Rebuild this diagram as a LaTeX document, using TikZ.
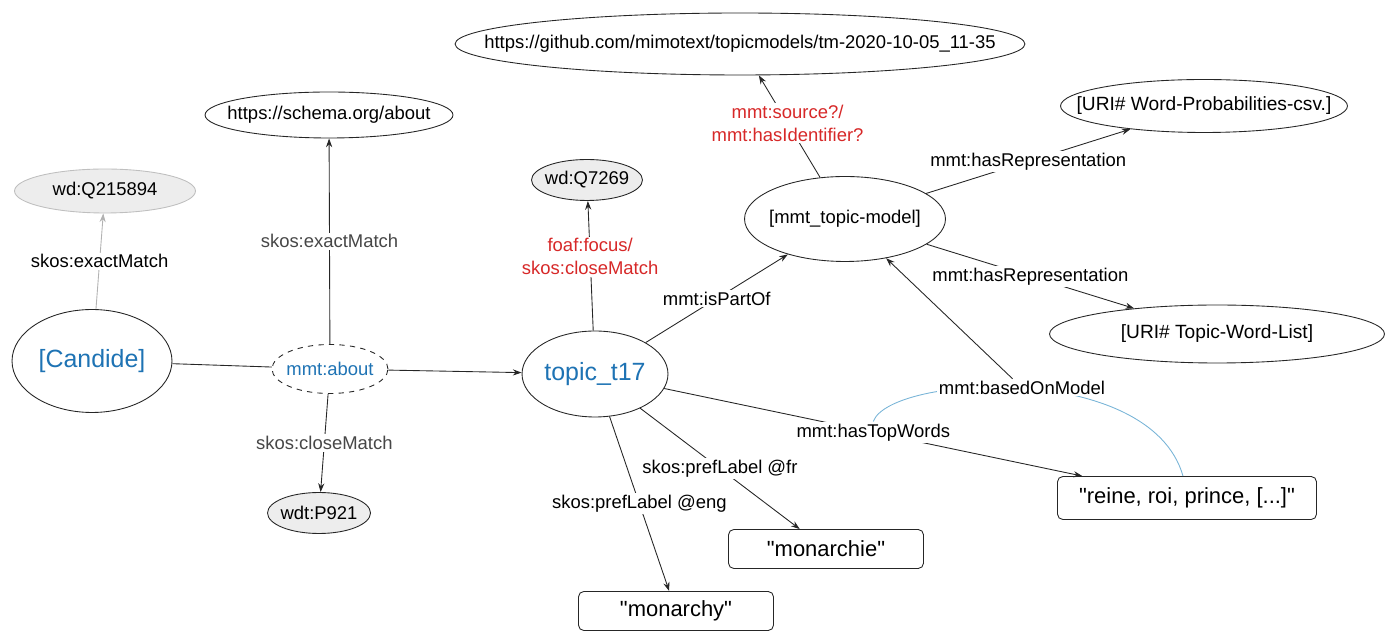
\documentclass[tikz,border=0pt]{standalone}
\usepackage{fontspec}
\setmainfont{Liberation Sans}[Ligatures=TeXOff]
\usepackage{xcolor}
\usepackage{tikz}
\usetikzlibrary{arrows.meta, shapes.geometric}

\definecolor{uriblue}{RGB}{30,115,180}
\definecolor{qred}{RGB}{215,40,40}
\definecolor{linkblue}{RGB}{120,180,215}
\newcommand{\zw}[1]{\makebox[0pt]{#1}}

\begin{document}
\begin{tikzpicture}[
        x=0.02cm, y=-0.02cm,
        ell_style/.style={ellipse, draw=black!85, line width=0.5pt, fill=white, inner sep=0pt, font=\fontsize{10.5}{12.5}\selectfont},
        wd_style/.style={ell_style, fill=black!7},
        uri_style/.style={ell_style, font=\fontsize{10.9}{13}\selectfont},
        big_style/.style={ell_style, text=uriblue, font=\fontsize{14.2}{17}\selectfont},
        lit_style/.style={rectangle, rounded corners=3pt, draw=black!85, line width=0.5pt, inner sep=0pt, font=\fontsize{12.5}{15}\selectfont},
        edge_style/.style={draw=black!85, line width=0.5pt, -{Stealth[length=5pt, width=3.5pt]}},
        line_style/.style={draw=black!85, line width=0.5pt},
        weight_style/.style={fill=white, inner sep=1pt, font=\fontsize{10.5}{12.5}\selectfont},
        red_style/.style={weight_style, text=qred, align=center, font=\fontsize{10.5}{13}\selectfont},
        gray_style/.style={weight_style, text=black!72}
    ]
        \useasboundingbox (0,0) rectangle (1396,644);

        % Nodes
        \node[big_style, minimum width=3.2cm, minimum height=2.06cm] (cand) at (92,361) {\zw{[Candide]}};
        \node[wd_style, draw=black!25, minimum width=3.62cm, minimum height=0.88cm] (wdq) at (105,191) {\zw{wd:Q215894}};
        \node[ell_style, dashed, text=uriblue, minimum width=2.32cm, minimum height=0.98cm] (about) at (330,369) {\zw{mmt:about}};
        \node[wd_style, minimum width=2.06cm, minimum height=0.82cm] (wdt) at (319,513) {\zw{wdt:P921}};
        \node[ell_style, minimum width=4.96cm, minimum height=0.92cm] (schema) at (329,115) {\zw{https://schema.org/about}};
        \node[ell_style, minimum width=11.4cm, minimum height=1.24cm] (gh) at (740,44) {\zw{https://github.com/mimotext/topicmodels/tm-2020-10-05\_11-35}};
        \node[wd_style, minimum width=2.22cm, minimum height=0.82cm] (wdf) at (587,180) {\zw{wd:Q7269}};
        \node[ell_style, minimum width=4.02cm, minimum height=1.7cm] (tm) at (845,219) {\zw{[mmt\_topic-model]}};
        \node[big_style, minimum width=2.92cm, minimum height=1.72cm] (t17) at (595,374) {\zw{topic\_t17}};
        \node[uri_style, minimum width=5.74cm, minimum height=1.06cm] (wp) at (1204,106) {\zw{[URI\# Word-Probabilities-csv.]}};
        \node[uri_style, minimum width=6.7cm, minimum height=1.16cm] (twl) at (1217,334) {\zw{[URI\# Topic-Word-List]}};
        \node[lit_style, minimum width=5.18cm, minimum height=0.86cm] (reine) at (1187,498) {"reine, roi, prince, [...]"};
        \node[lit_style, minimum width=3.9cm, minimum height=0.78cm] (mfr) at (826,549) {"monarchie"};
        \node[lit_style, minimum width=3.9cm, minimum height=0.78cm] (meng) at (676,611) {"monarchy"};

        % Edges
        \draw[edge_style, draw=black!30] (cand) -- (wdq) node[midway, weight_style] {skos:exactMatch};
        \draw[line_style] (cand) -- (about);
        \draw[edge_style] (about) -- (schema) node[midway, gray_style] {skos:exactMatch};
        \draw[edge_style] (about) -- (wdt) node[midway, gray_style] {skos:closeMatch};
        \draw[edge_style] (about) -- (t17);
        \draw[edge_style] (t17) -- (wdf) node[pos=0.57, red_style] {foaf:focus/\\skos:closeMatch};
        \draw[edge_style] (t17) -- (tm) node[midway, weight_style] {mmt:isPartOf};
        \draw[edge_style] (tm) -- (gh) node[pos=0.53, red_style] {mmt:source?/\\mmt:hasIdentifier?};
        \draw[edge_style] (tm) -- (wp) node[midway, weight_style] {mmt:hasRepresentation};
        \draw[edge_style] (tm) -- (twl) node[midway, weight_style] {mmt:hasRepresentation};
        \draw[edge_style] (t17) -- (reine) node[midway, weight_style] (htw) {mmt:hasTopWords};
        \draw[edge_style] (t17) -- (mfr) node[midway, weight_style] {skos:prefLabel @fr};
        \draw[edge_style] (t17) -- (meng) node[midway, weight_style] {skos:prefLabel @eng};

        % Based on model
        \draw[linkblue, line width=0.5pt] (htw.north) .. controls (890,375) and (1150,360) .. (reine.north -| 1183,0)
            node[pos=0.5, weight_style, text=black] (bom) {mmt:basedOnModel};
        \draw[edge_style] (bom) -- (tm);
    \end{tikzpicture}
\end{document}
